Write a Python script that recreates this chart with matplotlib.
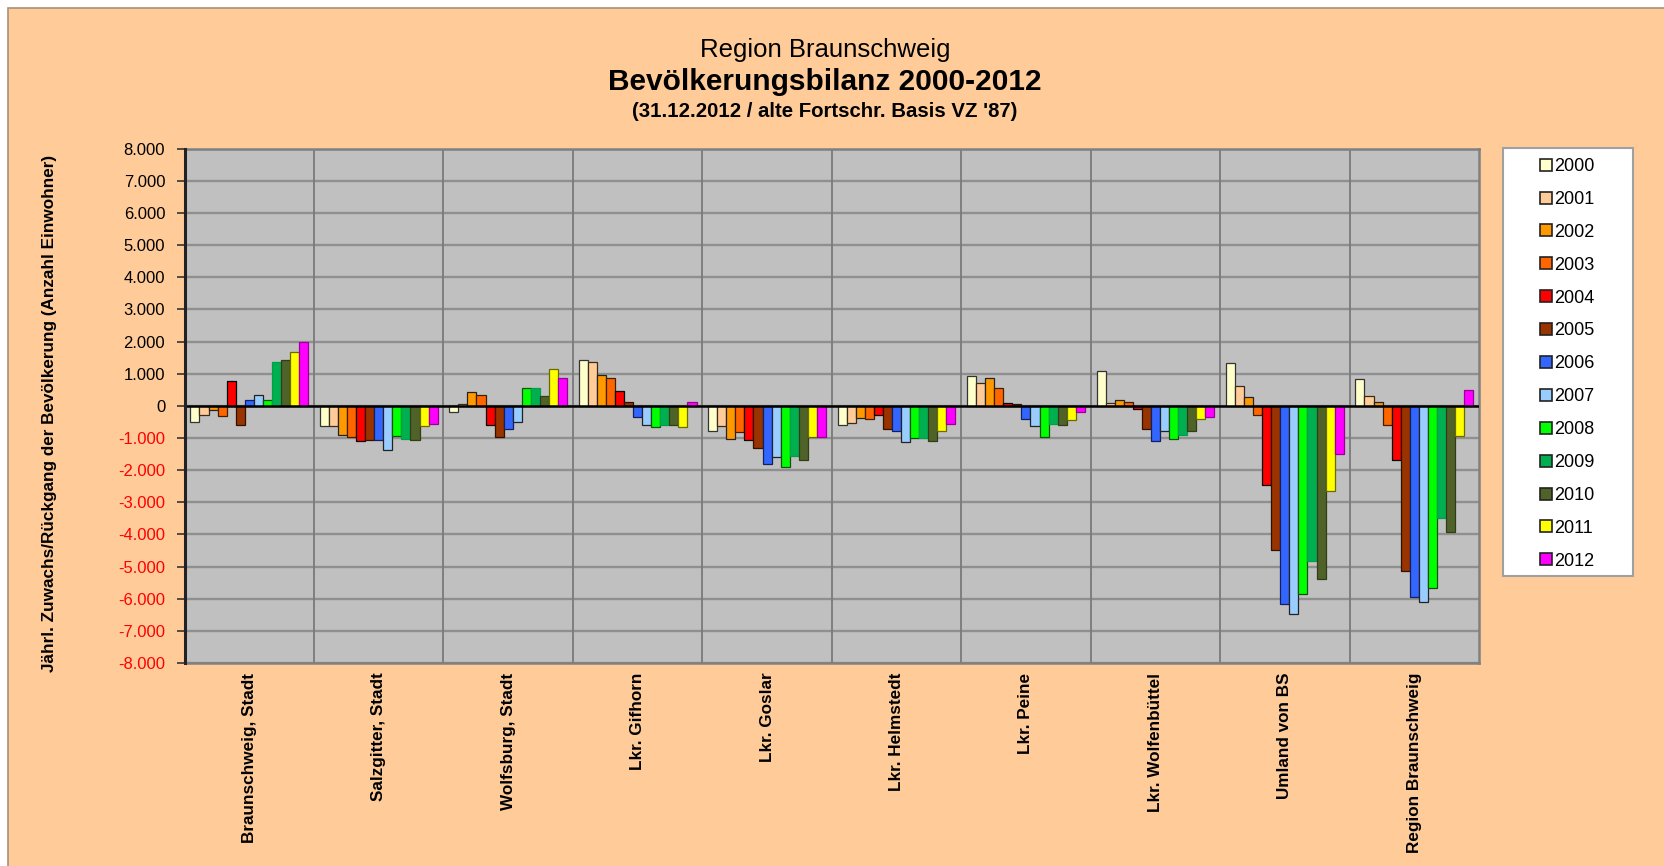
import numpy as np
import matplotlib
matplotlib.use("Agg")
from matplotlib import pyplot as plt
from matplotlib.patches import Rectangle

plt.rcParams['font.family'] = ['Liberation Sans', 'DejaVu Sans']

W, H = 1664, 866

regions = ['Braunschweig, Stadt', 'Salzgitter, Stadt', 'Wolfsburg, Stadt',
           'Lkr. Gifhorn', 'Lkr. Goslar', 'Lkr. Helmstedt', 'Lkr. Peine',
           'Lkr. Wolfenbüttel', 'Umland von BS', 'Region Braunschweig']
years = ['2000', '2001', '2002', '2003', '2004', '2005', '2006',
         '2007', '2008', '2009', '2010', '2011', '2012']

# one list per year, values in the order of the regions above
v2000 = [-500, -640, -180, 1430, -780, -600, 930, 1080, 1320, 840]
v2001 = [-300, -620, 60, 1360, -640, -530, 720, 100, 610, 300]
v2002 = [-130, -910, 420, 950, -1020, -380, 850, 190, 260, 110]
v2003 = [-320, -960, 350, 850, -830, -400, 540, 120, -300, -610]
v2004 = [780, -1100, -600, 470, -1070, -300, 100, -90, -2460, -1680]
v2005 = [-610, -1070, -960, 130, -1300, -730, 50, -730, -4490, -5130]
v2006 = [190, -1070, -730, -350, -1820, -780, -400, -1080, -6150, -5940]
v2007 = [340, -1370, -510, -600, -1580, -1130, -620, -780, -6470, -6100]
v2008 = [190, -930, 550, -650, -1900, -1000, -960, -1030, -5850, -5670]
v2009 = [1370, -1020, 550, -590, -1550, -990, -560, -910, -4830, -3480]
v2010 = [1440, -1070, 320, -610, -1690, -1080, -600, -780, -5380, -3930]
v2011 = [1670, -640, 1130, -650, -960, -780, -430, -400, -2640, -940]
v2012 = [1970, -560, 860, 120, -960, -560, -200, -360, -1500, 480]
values = [v2000, v2001, v2002, v2003, v2004, v2005, v2006,
          v2007, v2008, v2009, v2010, v2011, v2012]

colors = ['#FFFFCC', '#FFCC99', '#FF9900', '#FF6600', '#FF0000', '#993300', '#3366FF',
          '#99CCFF', '#00FF00', '#00B050', '#4F6228', '#FFFF00', '#FF00FF']
edges = ['#333333', '#3a2a1a', '#222222', '#402000', '#000000', '#301000', '#102060',
         '#222222', '#105010', '#00A048', '#303d18', '#6a6a00', '#990099']

fig = plt.figure(figsize=(W / 100, H / 100), dpi=100, facecolor='white')
fig.patches.append(Rectangle((8 / W, -0.01), 1.0, 1 - 8 / H + 0.01, transform=fig.transFigure,
                             facecolor='#FFCC99', edgecolor='#A89078', linewidth=1.2, zorder=-10))

ax = fig.add_axes([184.6 / W, 1 - 663 / H, (1479 - 184.6) / W, (663 - 148.6) / H])
ax.set_facecolor('#C0C0C0')

x = np.arange(len(regions))
bw = 0.07
bars = []
for i, yr in enumerate(years):
    off = (i - 6) * bw
    b = ax.bar(x + off, values[i], bw, color=colors[i], edgecolor=edges[i],
               linewidth=0.9, label=yr, zorder=3)
    bars.append(b)

ax.set_xlim(-0.5, len(regions) - 0.5)
ax.set_ylim(-8000, 8000)
yt = np.arange(-8000, 8001, 1000)
ax.set_yticks(yt)
ax.set_yticklabels([f"{v:,}".replace(',', '.') for v in yt], fontsize=12)
for lab, v in zip(ax.get_yticklabels(), yt):
    lab.set_color('#FF0000' if v < 0 else 'black')
ax.tick_params(axis='y', length=6, width=1.2, pad=8, color='#333333')

ax.set_xticks(x)
ax.set_xticklabels(regions, rotation=90, fontsize=12.3, fontweight='bold', va='top')
ax.tick_params(axis='x', length=0, pad=7)

for yv in yt:
    ax.axhline(yv, color='#8f8f8f', linewidth=1.7, zorder=1)
for xv in np.arange(0.5, len(regions) - 0.5, 1):
    ax.axvline(xv, color='#7a7a7a', linewidth=1.3, zorder=1)
ax.axhline(0, color='black', linewidth=1.8, zorder=4)

for s in ['top', 'right', 'bottom']:
    ax.spines[s].set_color('#808080')
    ax.spines[s].set_linewidth(1.8)
ax.spines['left'].set_color('#222222')
ax.spines['left'].set_linewidth(2.2)
ax.spines['left'].set_zorder(5)

fig.text(50 / W, 1 - 413 / H, 'Jährl. Zuwachs/Rückgang der Bevölkerung (Anzahl Einwohner)',
         rotation=90, ha='center', va='center', fontsize=12.3, fontweight='bold')

cx = 825 / W
fig.text(cx, 1 - 57 / H, 'Region Braunschweig', ha='center', va='baseline', fontsize=18.5)
fig.text(cx, 1 - 90 / H, 'Bevölkerungsbilanz 2000-2012', ha='center', va='baseline',
         fontsize=21.5, fontweight='bold')
fig.text(cx, 1 - 117 / H, "(31.12.2012 / alte Fortschr. Basis VZ '87)", ha='center',
         va='baseline', fontsize=14.7, fontweight='bold')

# legend box
fig.patches.append(Rectangle((1503 / W, 1 - 576 / H), 130 / W, 428 / H, transform=fig.transFigure,
                             facecolor='white', edgecolor='#A0A0A0', linewidth=1.5, zorder=1))
leg = fig.legend(handles=bars, labels=years, loc='upper left',
                 bbox_to_anchor=(1540 / W, 1 - 158 / H), frameon=False, fontsize=13,
                 handlelength=0.65, handleheight=0.65, handletextpad=0.15,
                 labelspacing=0.88, borderpad=0, borderaxespad=0)
for h in leg.legend_handles:
    h.set_linewidth(1.2)
    h.set_edgecolor('#222222')

fig.savefig('out.png', dpi=100, facecolor=fig.get_facecolor())
